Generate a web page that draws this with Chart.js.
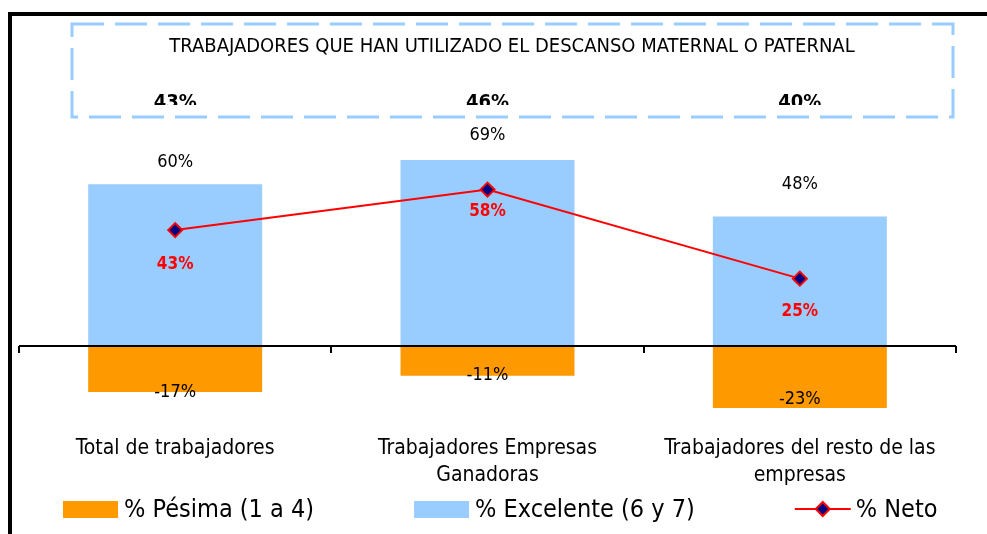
<!DOCTYPE html>
<html>
<head>
<meta charset="utf-8">
<script src="https://cdn.jsdelivr.net/npm/chart.js@4.4.0/dist/chart.umd.min.js"></script>
<style>
  html, body { margin: 0; padding: 0; background: #fff; }
  #wrap { width: 987px; height: 534px; }
</style>
</head>
<body>
<div id="wrap"><canvas id="chart" width="987" height="534"></canvas></div>
<script>
// Chart data
const categories = [
    ["Total de trabajadores"],
    ["Trabajadores Empresas", "Ganadoras"],
    ["Trabajadores del resto de las", "empresas"]
];
const pesima = [-17, -11, -23];
const excelente = [60, 69, 48];
const neto = [43, 58, 25];
const totals = [43, 46, 40];
const seriesNames = ["% Pésima (1 a 4)", "% Excelente (6 y 7)", "% Neto"];
const chartTitle = "TRABAJADORES QUE HAN UTILIZADO EL DESCANSO MATERNAL O PATERNAL";

const FONT = '"DejaVu Sans Condensed", "Liberation Sans Narrow", "DejaVu Sans", sans-serif';
const ORANGE = "#FF9900";
const BLUE = "#99CCFF";
const RED = "#FF0000";
const NAVY = "#000080";

// label nudges (px) so labels sit like the original
const excelenteDy = [-22, -25, -32];
const pesimaDy = [0, 0, -9];
const netoDy = [34, 22, 33];

function pct(v) { return v + "%"; }

function drawDiamond(ctx, x, y, r) {
    ctx.beginPath();
    ctx.moveTo(x - r, y);
    ctx.lineTo(x, y - r);
    ctx.lineTo(x + r, y);
    ctx.lineTo(x, y + r);
    ctx.closePath();
    ctx.fillStyle = NAVY;
    ctx.fill();
    ctx.lineWidth = 2;
    ctx.strokeStyle = RED;
    ctx.stroke();
}

const decor = {
    id: "decor",
    beforeDraw(chart) {
        const ctx = chart.ctx;
        ctx.save();
        ctx.fillStyle = "#fff";
        ctx.fillRect(0, 0, chart.width, chart.height);
        // black frame on top and left
        ctx.fillStyle = "#000";
        ctx.fillRect(8, 12, chart.width - 8, 4);
        ctx.fillRect(8, 12, 4, chart.height - 12);
        ctx.restore();
    },
    afterDatasetsDraw(chart) {
        const ctx = chart.ctx;
        const area = chart.chartArea;
        const xs = chart.scales.x;
        const ys = chart.scales.y;
        const y0 = ys.getPixelForValue(0);
        const n = categories.length;

        ctx.save();
        // zero axis with tick marks between categories
        ctx.strokeStyle = "#000";
        ctx.lineWidth = 2;
        ctx.beginPath();
        ctx.moveTo(area.left, y0);
        ctx.lineTo(area.right, y0);
        for (let i = 0; i <= n; i++) {
            const x = Math.round(area.left + i * (area.right - area.left) / n);
            ctx.moveTo(x, y0);
            ctx.lineTo(x, y0 + 7);
        }
        ctx.stroke();

        ctx.textAlign = "center";
        ctx.textBaseline = "middle";

        // bar labels
        ctx.fillStyle = "#000";
        ctx.font = "18px " + FONT;
        chart.getDatasetMeta(2).data.forEach((el, i) => {
            ctx.fillText(pct(excelente[i]), el.x, el.y + excelenteDy[i]);
        });
        chart.getDatasetMeta(1).data.forEach((el, i) => {
            ctx.fillText(pct(pesima[i]), el.x, el.y + pesimaDy[i]);
        });

        // net labels
        ctx.fillStyle = RED;
        ctx.font = "bold 17px " + FONT;
        chart.getDatasetMeta(0).data.forEach((el, i) => {
            ctx.fillText(pct(neto[i]), el.x, el.y + netoDy[i]);
        });

        // totals, cut off by the plot top
        ctx.save();
        ctx.beginPath();
        ctx.rect(0, 0, chart.width, area.top - 1);
        ctx.clip();
        ctx.fillStyle = "#000";
        ctx.font = "bold 20px " + FONT;
        ctx.textBaseline = "alphabetic";
        totals.forEach((v, i) => {
            ctx.fillText(pct(v), xs.getPixelForValue(i), area.top + 2);
        });
        ctx.restore();

        // dashed title box
        ctx.strokeStyle = BLUE;
        ctx.lineWidth = 3;
        ctx.setLineDash([32, 11]);
        ctx.strokeRect(72, 24, 881, 93);
        ctx.setLineDash([]);
        ctx.fillStyle = "#000";
        ctx.font = "20px " + FONT;
        ctx.fillText(chartTitle, 512, 47);

        // legend
        ctx.font = "25px " + FONT;
        ctx.textAlign = "left";
        const ly = 509;
        let lx = 63;
        const markers = [ORANGE, BLUE, null];
        seriesNames.forEach((name, i) => {
            if (markers[i]) {
                ctx.fillStyle = markers[i];
                ctx.fillRect(lx, ly - 8, 55, 17);
            } else {
                ctx.strokeStyle = RED;
                ctx.lineWidth = 2;
                ctx.beginPath();
                ctx.moveTo(lx, ly);
                ctx.lineTo(lx + 56, ly);
                ctx.stroke();
                drawDiamond(ctx, lx + 28, ly, 7);
            }
            ctx.fillStyle = "#000";
            ctx.fillText(name, lx + 61, ly + 1);
            lx += 61 + ctx.measureText(name).width + 100;
        });
        ctx.restore();
    }
};

Chart.defaults.font.family = FONT;
Chart.defaults.color = "#000";

new Chart(document.getElementById("chart"), {
    type: "bar",
    data: {
        labels: categories,
        datasets: [
            {
                type: "line",
                label: seriesNames[2],
                data: neto,
                borderColor: RED,
                borderWidth: 2,
                pointStyle: "rectRot",
                pointRadius: 7,
                pointBackgroundColor: NAVY,
                pointBorderColor: RED,
                pointBorderWidth: 2,
                order: 0
            },
            {
                label: seriesNames[0],
                data: pesima,
                backgroundColor: ORANGE,
                grouped: false,
                barPercentage: 0.557,
                categoryPercentage: 1,
                order: 1
            },
            {
                label: seriesNames[1],
                data: excelente,
                backgroundColor: BLUE,
                grouped: false,
                barPercentage: 0.557,
                categoryPercentage: 1,
                order: 1
            }
        ]
    },
    options: {
        responsive: false,
        animation: false,
        devicePixelRatio: 1,
        layout: { padding: { left: 19, right: 31, top: 106, bottom: 27 } },
        plugins: {
            legend: { display: false },
            tooltip: { enabled: false }
        },
        scales: {
            x: {
                grid: { display: false, drawTicks: false },
                border: { display: false },
                ticks: {
                    padding: 8,
                    maxRotation: 0,
                    autoSkip: false,
                    font: { size: 21, lineHeight: 1.286 }
                },
                afterFit(scale) { scale.height = 80; }
            },
            y: {
                display: false,
                min: -30,
                max: 89
            }
        }
    },
    plugins: [decor]
});
</script>
</body>
</html>
